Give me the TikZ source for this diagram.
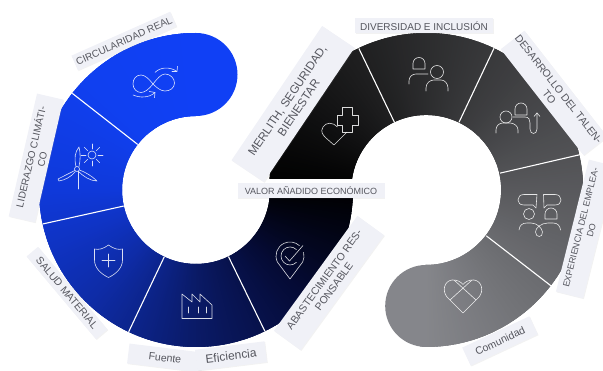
\documentclass[tikz,border=0pt]{standalone}
\usepackage{fontspec}
\setmainfont{Liberation Sans}
\usetikzlibrary{shadows}

\definecolor{tagfill}{HTML}{F0F1F7}
\definecolor{tagtext}{HTML}{55565E}
\definecolor{b0}{HTML}{1040F5}
\definecolor{b1}{HTML}{1040F0}
\definecolor{b2}{HTML}{0F39DA}
\definecolor{b3}{HTML}{0E2CA8}
\definecolor{b4}{HTML}{0A1A66}
\definecolor{b5}{HTML}{050B36}
\definecolor{b6}{HTML}{000000}
\definecolor{gr0}{HTML}{000000}
\definecolor{gr1}{HTML}{85868B}

\tikzset{
  tag/.style={fill=tagfill, text=tagtext, inner sep=0pt, align=center,
    font=\fontsize{10}{11.5}\selectfont,
    drop shadow={shadow xshift=0.8pt, shadow yshift=-0.8pt, opacity=0.1}},
  divider/.style={draw=white, line width=1.1pt},
  icon/.style={draw=white, draw opacity=0.85, line width=0.6pt, line cap=round, line join=round}
}

\begin{document}
\begin{tikzpicture}[x=1pt, y=-1pt]

  \useasboundingbox (0,0) rectangle (603,371);
  \coordinate (cleft) at (196,190);
  \coordinate (cright) at (427,190);

  % left band
  \begin{scope}
    \clip (196,33) arc[start angle=90, end angle=360, radius=157pt] -- (270,190)
      arc[start angle=360, end angle=90, radius=74pt]
      arc[start angle=-90, end angle=90, radius=41.5pt] -- cycle;
    \fill[b0] (150,20) rectangle (360,200);
    \foreach \a/\ca/\cb in {90/b0/b1,135/b1/b2,180/b2/b3,225/b3/b4,270/b4/b5,315/b5/b6}
      \foreach \t in {0,...,44}
      {
        \pgfmathsetmacro{\mixv}{\t/0.45}
        \fill[\cb!\mixv!\ca] (cleft) -- ++(\a+\t:175pt) -- ++(\a+\t+90:8pt) -- cycle;
      }
  \end{scope}

  % right band
  \begin{scope}
    \clip (352,179) arc[start angle=171.6, end angle=-90, radius=75pt]
      arc[start angle=90, end angle=270, radius=41pt]
      arc[start angle=-90, end angle=176, radius=157pt] -- cycle;
    \fill[gr1] (380,190) rectangle (430,350);
    \foreach \t in {0,...,270}
    {
      \pgfmathsetmacro{\mixv}{\t/2.7}
      \fill[gr1!\mixv!gr0] (cright) -- ++(180-\t:175pt) -- ++(180-\t-90:8pt) -- cycle;
    }
  \end{scope}

  \foreach \a in {142,192.5,244.6,296}
    \draw[divider] (cleft) ++(\a:74pt) -- ++(\a:83pt);
  \foreach \a in {115.7,64.7,13,-37.7}
    \draw[divider] (cright) ++(\a:75pt) -- ++(\a:82pt);

  % icons
  \draw[icon] (153,84) .. controls (149,79) and (145,75) .. (141,75) .. controls (136,75) and (133,79) .. (133,84)
    .. controls (133,89) and (137,92.5) .. (141,92.5) .. controls (145,92.5) and (149,89) .. (153,84)
    .. controls (157,79) and (161,74) .. (165,74) .. controls (170,74) and (174.5,78) .. (174.5,83)
    .. controls (174.5,88) and (170,91) .. (165,91) .. controls (161,91) and (157,88) .. (153,84);
  \draw[icon] (155,72.5) .. controls (160,67) and (170,66.5) .. (177,71.5) (177.5,66.5) -- (177,71.5) -- (172,71.5);
  \draw[icon] (133,95) .. controls (140,98) and (149,98) .. (155,92.5) (149.5,91.5) -- (155,92.5) -- (154.5,97.5);

  \draw[icon] (77,169) circle[radius=2.5pt];
  \draw[icon] (76,166.5) .. controls (74,158) and (75,152) .. (79,147) .. controls (80.5,153) and (80.5,160) .. (79,166.5);
  \draw[icon] (74.8,170.5) -- (58,179) -- (59,181) .. controls (65,180) and (71,177) .. (75.5,171.5);
  \draw[icon] (79.5,170) .. controls (85,172) and (92,176) .. (97,181) .. controls (90,181) and (83,176) .. (78.5,171.5);
  \draw[icon] (78,171.5) -- (78,189);
  \draw[icon] (92,155) circle[radius=4pt];
  \foreach \a in {0,45,...,315}
    \draw[icon] (92,155) ++(\a:6pt) -- ++(\a:5pt);

  \draw[icon] (108.5,245) .. controls (103,249) and (99,250) .. (94.5,249) -- (94.5,260)
    .. controls (94.5,268) and (101,274) .. (108.5,277.5) .. controls (116,274) and (122.5,268) .. (122.5,260)
    -- (122.5,249) .. controls (118,250) and (114,249) .. (108.5,245);
  \draw[icon] (102,260.5) -- (115,260.5) (108.5,254) -- (108.5,267);

  \draw[icon] (182,318.5) -- (182,294) -- (192,302) -- (192,294) -- (200,302) -- (200,294) -- (212,305) -- (212,318.5) -- cycle;
  \foreach \x in {188,198,206}
    \draw[icon] (\x,307) -- (\x,313);

  \draw[icon] (290,279) -- (277.3,261.9) arc[start angle=205, end angle=48, radius=14pt];
  \draw[icon] (290,279) -- (302.7,261.9) arc[start angle=-25, end angle=15, radius=14pt];
  \draw[icon] (296.4,249.6) arc[start angle=45, end angle=315, radius=9pt];
  \draw[icon] (285,256) -- (289.5,261) -- (303,245.5);

  \draw[icon] (337.5,127) .. controls (333,122) and (326,122) .. (323,127) .. controls (320,132) and (323,135) .. (326,138)
    -- (334,145) -- (347,132);
  \draw[icon] (342,107) -- (352,107) -- (352,115) -- (358,115) -- (358,125) -- (352,125) -- (352,132) -- (342,132)
    -- (342,125) -- (337,125) -- (337,115) -- (342,115) -- cycle;

  \draw[icon] (413,69) -- (413,63.5) arc[start angle=180, end angle=0, radius=6pt] -- (425,69) -- cycle;
  \draw[icon] (409,84) -- (409,81) .. controls (409,77) and (412,74) .. (416,74) -- (428,74);
  \draw[icon] (437,72) circle[radius=6.5pt];
  \draw[icon] (426,91) -- (426,88) .. controls (426,83) and (430,80) .. (434,80) -- (441,80)
    .. controls (445,80) and (448,84) .. (448,88) -- (448,91);

  \draw[icon] (506,117) circle[radius=6pt];
  \draw[icon] (496,133) -- (496,130) .. controls (496,126) and (499,123) .. (503,123) -- (510,123)
    .. controls (514,123) and (518,126) .. (518,130) -- (518,133);
  \draw[icon] (515,115) -- (515,109) arc[start angle=180, end angle=0, radius=6pt] -- (527,115) -- cycle;
  \draw[icon] (513,117) -- (525,117) .. controls (529,117) and (530,120) .. (530,123) -- (530,129)
    .. controls (530,135) and (537,135) .. (537,129) -- (537,113);
  \draw[icon] (534,116.5) -- (537,113) -- (540,116.5);

  \draw[icon] (537,194.5) -- (524,194.5) .. controls (520,194.5) and (518,197) .. (518,200) .. controls (518,203) and (520,205) .. (524,205)
    -- (533,205) -- (536,208) -- cycle;
  \draw[icon] (543.5,194.5) -- (555,194.5) .. controls (559,194.5) and (561,197) .. (561,200) .. controls (561,203) and (559,205) .. (555,205)
    -- (547,205) -- (544,208) -- cycle;
  \draw[icon] (529,214) circle[radius=5.5pt];
  \draw[icon] (545,219) -- (545,214) arc[start angle=180, end angle=0, radius=6pt] -- (557,219) -- cycle;
  \draw[icon] (519,230) .. controls (519.5,225.5) and (522,223) .. (527,223) -- (531,223) .. controls (537,223) and (542,228) .. (542.5,232)
    .. controls (543,238) and (535.5,238) .. (535.5,232) .. controls (535.5,228) and (541,223) .. (548,223)
    -- (553,223) .. controls (558,223) and (560,226) .. (560.5,230);

  \draw[icon] (463,313) -- (447,297) .. controls (442,291) and (444,281) .. (452,280) .. controls (457,279.5) and (461,282) .. (463,284.5)
    .. controls (465,282) and (469,279.5) .. (474,280) .. controls (482,281) and (484,291) .. (479,297) -- cycle;
  \draw[icon] (450,300) -- (472,280) (476,300) -- (454,280);

  % labels
  \node[tag, rotate=24, minimum width=108pt, minimum height=16pt] (circular) at (124,41) {CIRCULARIDAD REAL};
  \node[tag, rotate=77, minimum width=126pt, minimum height=27pt] (clima) at (36,158) {LIDERAZGO CLIMÁTI-\\CO};
  \node[tag, rotate=-50, minimum width=108pt, minimum height=15pt, font=\fontsize{10.5}{12}\selectfont] (salud) at (67,293) {SALUD MATERIAL};
  \node[tag, rotate=-7, minimum width=74pt, minimum height=20pt, font=\fontsize{10.5}{12}\selectfont] (fuente) at (165,358) {Fuente};
  \node[tag, rotate=7, minimum width=70pt, minimum height=21pt, font=\fontsize{12}{14}\selectfont] (eficiencia) at (231,356) {Eficiencia};
  \node[tag, rotate=54, minimum width=142pt, minimum height=33pt, font=\fontsize{10.5}{12}\selectfont] (abaste) at (329,283) {ABASTECIMIENTO RES-\\PONSABLE};
  \node[tag, minimum width=147pt, minimum height=15pt, font=\fontsize{9}{11}\selectfont] (valor) at (311,191) {VALOR AÑADIDO ECONÓMICO};
  \node[tag, rotate=56, minimum width=162pt, minimum height=39pt, font=\fontsize{11.7}{13.5}\selectfont] (merlith) at (293,104) {MERLITH, SEGURIDAD,\\BIENESTAR};
  \node[tag, minimum width=138pt, minimum height=15pt] (diversidad) at (424,26) {DIVERSIDAD E INCLUSIÓN};
  \node[tag, rotate=-52, minimum width=134pt, minimum height=30pt, font=\fontsize{10.5}{12}\selectfont] (talento) at (554,93) {DESARROLLO DEL TALEN-\\TO};
  \node[tag, rotate=76, minimum width=136pt, minimum height=28pt, font=\fontsize{9}{11}\selectfont] (empleado) at (586,229) {EXPERIENCIA DEL EMPLEA-\\DO};
  \node[tag, rotate=25, minimum width=74pt, minimum height=20pt, font=\fontsize{10.5}{12}\selectfont] (comunidad) at (500,341) {Comunidad};

\end{tikzpicture}
\end{document}
